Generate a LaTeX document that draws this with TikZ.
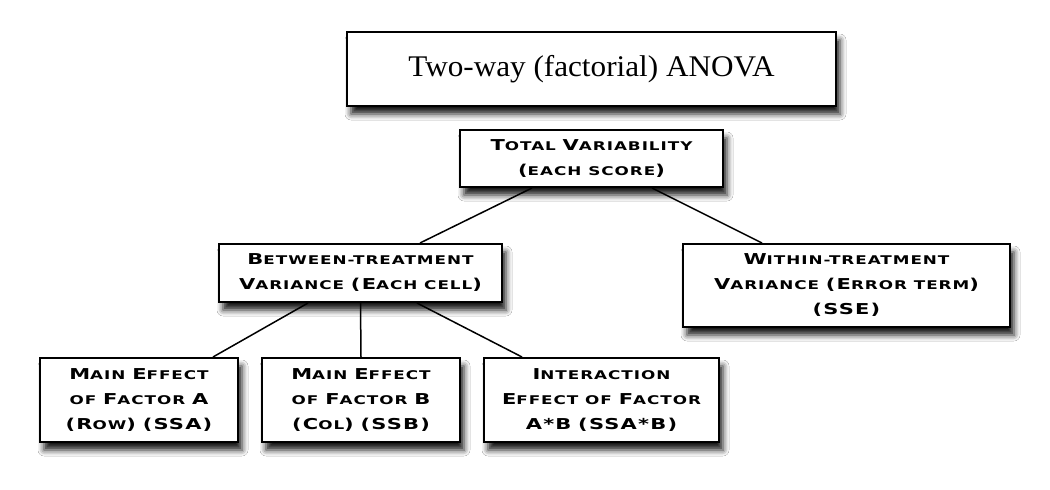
\documentclass[tikz,border=0pt]{standalone}
\usepackage{fontspec}
\usetikzlibrary{shadows.blur}
\newfontfamily\cpfont{DejaVu Sans}[FakeStretch=1.4,LetterSpace=8]
\newfontfamily\titlefont{Liberation Serif}[FakeStretch=1.04]
\newcommand\Bg[1]{{\fontsize{15}{25}\selectfont #1}}
\newcommand\Lp{\Bg{(}}
\newcommand\Rp{\Bg{)}}
\begin{document}
\begin{tikzpicture}[x=1pt,y=-1pt,
  box/.style={draw, line width=2pt, fill=white, inner sep=0pt, align=center,
    blur shadow={shadow xshift=4pt, shadow yshift=-8pt, shadow blur radius=6pt, shadow opacity=90},
    font={\cpfont\bfseries\fontsize{12}{25}\selectfont}},
  link/.style={line width=1.5pt}]
\useasboundingbox[fill=white] (0,0) rectangle (1050,490);
\node[box, minimum width=489pt, minimum height=74pt, font={\titlefont\fontsize{30}{34}\selectfont}] (title) at (591.5,69) {Two-way (factorial) ANOVA};
\node[box, minimum width=263pt, minimum height=57pt] (total) at (591.5,158.5) {\Bg{T}OTAL \Bg{V}ARIABILITY\\\Lp EACH SCORE\Rp};
\node[box, minimum width=283pt, minimum height=58pt] (between) at (360.5,273) {\Bg{B}ETWEEN-TREATMENT\\\Bg{V}ARIANCE \Lp\Bg{E}ACH CELL\Rp};
\node[box, minimum width=327pt, minimum height=83pt] (within) at (846.5,285.5) {\Bg{W}ITHIN-TREATMENT\\\Bg{V}ARIANCE \Lp\Bg{E}RROR TERM\Rp\\\Lp\Bg{SSE}\Rp};
\node[box, minimum width=198pt, minimum height=84pt] (mainA) at (139,400) {\Bg{M}AIN \Bg{E}FFECT\\OF \Bg{F}ACTOR \Bg{A}\\\Lp\Bg{R}OW\Rp{} \Lp\Bg{SSA}\Rp};
\node[box, minimum width=198pt, minimum height=84pt] (mainB) at (361,400) {\Bg{M}AIN \Bg{E}FFECT\\OF \Bg{F}ACTOR \Bg{B}\\\Lp\Bg{C}OL\Rp{} \Lp\Bg{SSB}\Rp};
\node[box, minimum width=235pt, minimum height=84pt] (inter) at (601.5,400) {\Bg{I}NTERACTION\\\Bg{E}FFECT OF \Bg{F}ACTOR\\\Bg{A*B} \Lp\Bg{SSA*B}\Rp};
\draw[link] ([xshift=-59.5pt]total.south) -- ([xshift=59.5pt]between.north);
\draw[link] ([xshift=60.5pt]total.south) -- ([xshift=-84.5pt]within.north);
\draw[link] ([xshift=-52.5pt]between.south) -- ([xshift=74pt]mainA.north);
\draw[link] (between.south) -- (mainB.north);
\draw[link] ([xshift=56.5pt]between.south) -- ([xshift=-79.5pt]inter.north);
\end{tikzpicture}
\end{document}
